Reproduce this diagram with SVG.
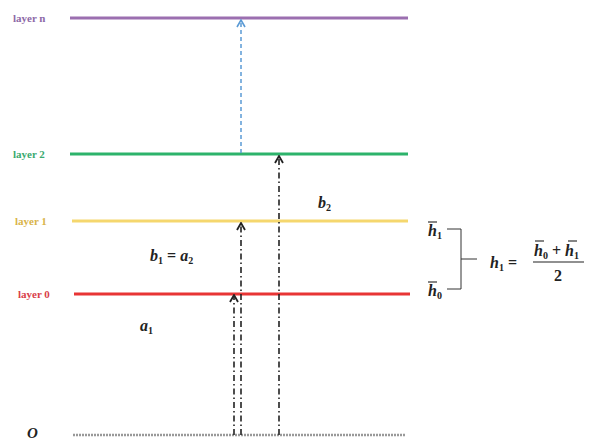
<svg xmlns="http://www.w3.org/2000/svg" width="602" height="442" viewBox="0 0 602 442">
<style>
.lbl{font-family:"Liberation Serif",serif;font-size:11px;font-weight:bold;}
.m{font-family:"Liberation Serif",serif;font-weight:bold;font-style:italic;font-size:16px;fill:#222;}
.mn{font-family:"Liberation Serif",serif;font-weight:bold;font-style:normal;font-size:16px;fill:#222;}
.sub{font-size:10px;font-style:normal;}
.layer{stroke-width:3;fill:none;}
.ov{stroke:#222;stroke-width:1.1;}
</style>
<defs>
<marker id="ah" markerWidth="10" markerHeight="10" refX="9" refY="5" orient="auto" markerUnits="userSpaceOnUse" viewBox="0 0 10 10">
<path d="M2,1 L9,5 L2,9" fill="none" stroke="#222" stroke-width="1.8"/>
</marker>
<marker id="ahb" markerWidth="10" markerHeight="10" refX="9" refY="5" orient="auto" markerUnits="userSpaceOnUse" viewBox="0 0 10 10">
<path d="M2,1 L9,5 L2,9" fill="none" stroke="#5b9bd5" stroke-width="1.6"/>
</marker>
</defs>
<rect width="602" height="442" fill="#fff"/>
<g id="layer-n">
<text class="lbl" x="13" y="22" fill="#8e6aa8">layer n</text>
<line class="layer" x1="70" y1="18" x2="408" y2="18" stroke="#9b6fb0"/>
</g>
<g id="layer-2">
<text class="lbl" x="13" y="158" fill="#3aaa70">layer 2</text>
<line class="layer" x1="70" y1="154" x2="408" y2="154" stroke="#2db36b"/>
</g>
<g id="layer-1">
<text class="lbl" x="15" y="225" fill="#d9b44a">layer 1</text>
<line class="layer" x1="72" y1="221" x2="408" y2="221" stroke="#f5d76e"/>
</g>
<g id="layer-0">
<text class="lbl" x="18" y="298" fill="#d9404a">layer 0</text>
<line class="layer" x1="74" y1="294" x2="410" y2="294" stroke="#e83535"/>
</g>
<g id="origin">
<text class="m" x="27" y="438" style="font-size:15px">O</text>
<line x1="73" y1="435" x2="405" y2="435" stroke="#999" stroke-width="2.5" stroke-dasharray="2 1"/>
</g>
<g id="connectors">
<line x1="241" y1="153" x2="241" y2="20" stroke="#5b9bd5" stroke-width="1.5" stroke-dasharray="4 3" marker-end="url(#ahb)"/>
<line x1="279" y1="435" x2="279" y2="156" stroke="#222" stroke-width="1.6" stroke-dasharray="6 3 1.5 3" marker-end="url(#ah)"/>
<line x1="241" y1="435" x2="241" y2="223" stroke="#222" stroke-width="1.6" stroke-dasharray="6 3 1.5 3" marker-end="url(#ah)"/>
<line x1="234" y1="435" x2="234" y2="295" stroke="#222" stroke-width="1.6" stroke-dasharray="6 3 1.5 3" marker-end="url(#ah)"/>
</g>
<g id="labels">
<text class="m" x="318" y="208">b<tspan class="sub" dy="3">2</tspan></text>
<text class="m" x="150" y="261">b<tspan class="sub" dy="3">1</tspan><tspan dy="-3" class="mn"> = </tspan>a<tspan class="sub" dy="3">2</tspan></text>
<text class="m" x="140" y="331">a<tspan class="sub" dy="3">1</tspan></text>
</g>
<g id="bracket">
<text class="m" x="428" y="236">h<tspan class="sub" dy="3">1</tspan></text>
<line class="ov" x1="428" y1="222" x2="437" y2="222"/>
<text class="m" x="428" y="296">h<tspan class="sub" dy="3">0</tspan></text>
<line class="ov" x1="428" y1="282" x2="437" y2="282"/>
<path d="M447,229 H461 V289 H447 M461,259 H477" fill="none" stroke="#333" stroke-width="1"/>
<text class="m" x="490" y="268">h<tspan class="sub" dy="3">1</tspan><tspan dy="-3" class="mn"> =</tspan></text>
<text class="m" x="534" y="256">h<tspan class="sub" dy="3">0</tspan><tspan dy="-3" class="mn"> + </tspan>h<tspan class="sub" dy="3">1</tspan></text>
<line class="ov" x1="535" y1="241" x2="544" y2="241"/>
<line class="ov" x1="568" y1="241" x2="577" y2="241"/>
<line x1="533" y1="262" x2="584" y2="262" stroke="#222" stroke-width="1.2"/>
<text class="mn" x="554" y="281">2</text>
</g>
</svg>
